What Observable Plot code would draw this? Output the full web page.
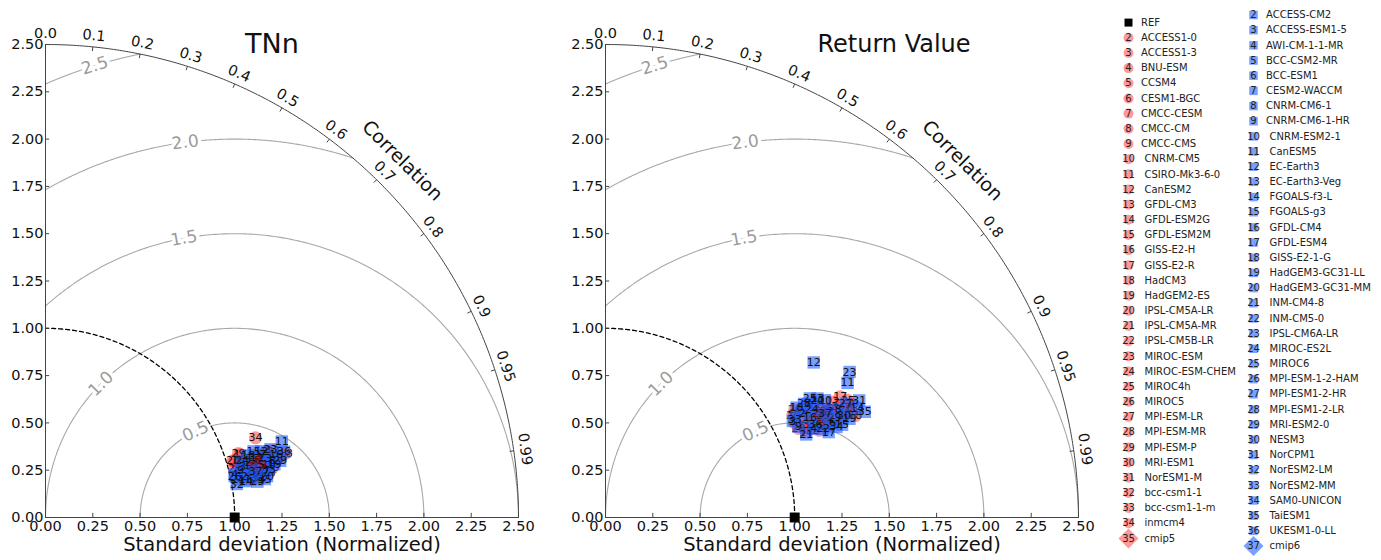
<!DOCTYPE html>
<html><head><meta charset="utf-8">
<script src="https://cdn.jsdelivr.net/npm/d3@7"></script>
<script src="https://cdn.jsdelivr.net/npm/@observablehq/plot@0.6"></script>
<style>
body{margin:0;background:#fff;font-family:"DejaVu Sans",sans-serif;}
#wrap{display:flex;width:1381px;height:560px;overflow:hidden;}
#wrap svg{display:block;flex:none;}
</style></head><body><div id="wrap"></div>
<script>
// ---------- data ----------
const cmip5Models = ["ACCESS1-0","ACCESS1-3","BNU-ESM","CCSM4","CESM1-BGC","CMCC-CESM","CMCC-CM","CMCC-CMS","CNRM-CM5","CSIRO-Mk3-6-0","CanESM2","GFDL-CM3","GFDL-ESM2G","GFDL-ESM2M","GISS-E2-H","GISS-E2-R","HadCM3","HadGEM2-ES","IPSL-CM5A-LR","IPSL-CM5A-MR","IPSL-CM5B-LR","MIROC-ESM","MIROC-ESM-CHEM","MIROC4h","MIROC5","MPI-ESM-LR","MPI-ESM-MR","MPI-ESM-P","MRI-ESM1","NorESM1-M","bcc-csm1-1","bcc-csm1-1-m","inmcm4"];
const cmip6Models = ["ACCESS-CM2","ACCESS-ESM1-5","AWI-CM-1-1-MR","BCC-CSM2-MR","BCC-ESM1","CESM2-WACCM","CNRM-CM6-1","CNRM-CM6-1-HR","CNRM-ESM2-1","CanESM5","EC-Earth3","EC-Earth3-Veg","FGOALS-f3-L","FGOALS-g3","GFDL-CM4","GFDL-ESM4","GISS-E2-1-G","HadGEM3-GC31-LL","HadGEM3-GC31-MM","INM-CM4-8","INM-CM5-0","IPSL-CM6A-LR","MIROC-ES2L","MIROC6","MPI-ESM-1-2-HAM","MPI-ESM1-2-HR","MPI-ESM1-2-LR","MRI-ESM2-0","NESM3","NorCPM1","NorESM2-LM","NorESM2-MM","SAM0-UNICON","TaiESM1","UKESM1-0-LL"];
const ensembleNames = ["cmip5","cmip6"];
const panelTitles = ["TNn","Return Value"];

// normalized standard deviation and correlation (models 2.., last value = ensemble mean)
const tnnStd5 = [1.092,1.155,1.055,1.189,1.109,1.044,1.146,1.211,1.079,1.165,1.221,1.251,1.256,1.228,1.082,1.153,1.315,1.281,1.035,1.096,1.133,1.177,1.203,1.122,1.033,1.090,1.140,1.075,1.204,1.181,1.121,1.080,1.187,1.155];
const tnnCor5 = [0.962,0.970,0.967,0.968,0.974,0.958,0.960,0.975,0.973,0.979,0.958,0.959,0.971,0.977,0.952,0.980,0.966,0.968,0.957,0.967,0.962,0.960,0.964,0.981,0.968,0.981,0.983,0.949,0.980,0.974,0.964,0.963,0.935,0.970];
const tnnStd6 = [1.073,1.133,1.026,1.160,1.098,1.196,1.237,1.060,1.213,1.312,1.193,1.201,1.077,1.154,1.264,1.160,1.120,1.242,1.191,1.039,1.116,1.243,1.082,1.136,1.024,1.177,1.128,1.276,1.094,1.149,1.026,1.206,1.155,1.177,1.308,1.136];
const tnnCor6 = [0.979,0.971,0.975,0.966,0.983,0.961,0.970,0.972,0.973,0.952,0.956,0.966,0.984,0.953,0.965,0.975,0.956,0.974,0.983,0.981,0.977,0.957,0.961,0.986,0.977,0.977,0.966,0.972,0.969,0.983,0.985,0.978,0.961,0.985,0.964,0.977];
const rvStd5 = [1.172,1.248,1.118,1.311,1.178,1.330,1.172,1.254,1.396,1.253,1.346,1.416,1.152,1.279,1.350,1.395,1.426,1.265,1.128,1.212,1.333,1.123,1.220,1.422,1.151,1.275,1.375,1.287,1.432,1.217,1.217,1.150,1.364,1.271];
const rvCor5 = [0.896,0.898,0.894,0.900,0.917,0.917,0.879,0.917,0.910,0.878,0.891,0.918,0.920,0.891,0.926,0.889,0.926,0.925,0.878,0.899,0.908,0.908,0.926,0.900,0.869,0.910,0.917,0.925,0.908,0.879,0.912,0.905,0.902,0.905];
const rvStd6 = [1.177,1.114,1.196,1.253,1.300,1.227,1.356,1.127,1.315,1.464,1.372,1.285,1.451,1.343,1.203,1.263,1.165,1.391,1.280,1.148,1.242,1.502,1.230,1.250,1.257,1.405,1.209,1.321,1.371,1.477,1.297,1.127,1.311,1.480,1.213,1.284];
const rvCor6 = [0.884,0.889,0.920,0.910,0.923,0.872,0.907,0.905,0.882,0.874,0.802,0.872,0.917,0.931,0.898,0.934,0.867,0.927,0.875,0.924,0.926,0.859,0.886,0.864,0.899,0.904,0.868,0.916,0.919,0.908,0.902,0.887,0.931,0.926,0.915,0.904];

const stdTicks = [0,0.25,0.5,0.75,1,1.25,1.5,1.75,2,2.25,2.5];
const corrTicks = [0,0.1,0.2,0.3,0.4,0.5,0.6,0.7,0.8,0.9,0.95,0.99];
const rmsLevels = [0.5,1.0,1.5,2.0,2.5];
const rmsLabelAngle = [114.5,135,100.3,97.5,107.2]; // degrees around REF where contour labels sit
const refStd = 1.0;
const stdMax = 2.5;

// ---------- helpers ----------
const C5 = "red", C6 = "#1f5fff", TXT = "#111";
const pol = (s, c) => [s * c, s * Math.sqrt(Math.max(0, 1 - c * c))];

function taylor(title, titleX, titleSize, std5, cor5, std6, cor6) {
  const pts = (std, cor, group) => std.map((s, i) => {
    const [x, y] = pol(s, cor[i]);
    return {n: i + 2, x, y, group, mean: i === std.length - 1};
  });
  const p5 = pts(std5, cor5, "cmip5"), p6 = pts(std6, cor6, "cmip6");
  const arc = (cx, r, a0, a1, key) => d3.range(0, 241).map(k => {
    const a = a0 + (a1 - a0) * k / 240;
    return {key, x: cx + r * Math.cos(a), y: r * Math.sin(a)};
  });
  const rmsLines = rmsLevels.flatMap(R => {
    const cmin = Math.min(1, (stdMax * stdMax - refStd * refStd - R * R) / (2 * R * refStd));
    const a0 = Math.acos(Math.max(-1, cmin));
    const a1 = R > refStd ? Math.acos(-refStd / R) : Math.PI;
    return arc(refStd, R, a0, a1, R);
  });
  const rmsLabels = rmsLevels.map((R, i) => {
    const a = rmsLabelAngle[i] * Math.PI / 180;
    return {x: refStd + R * Math.cos(a), y: R * Math.sin(a), rot: 90 - rmsLabelAngle[i], t: R.toFixed(1)};
  });
  const corrLab = corrTicks.map(c => {
    const [x, y] = pol(2.56, c);
    return {x, y, rot: 90 - Math.acos(c) * 180 / Math.PI, t: c === 0 ? "0.0" : String(c)};
  });
  const corrTk = corrTicks.map(c => {
    const [x1, y1] = pol(stdMax, c), [x2, y2] = pol(stdMax - 0.022, c);
    return {x1, y1, x2, y2};
  });
  const corrTitle = (() => { const a = Math.PI / 4; return [{x: 2.667 * Math.cos(a), y: 2.667 * Math.sin(a)}]; })();

  return Plot.plot({
    width: 560, height: 560,
    marginLeft: 45, marginRight: 42, marginTop: 44, marginBottom: 43,
    x: {domain: [0, stdMax]}, y: {domain: [0, stdMax]},
    style: {fontFamily: "DejaVu Sans", fontSize: "14.5px", color: TXT, background: "white", overflow: "visible"},
    marks: [
      Plot.line(rmsLines, {x: "x", y: "y", z: "key", stroke: "#a8a8a8", strokeWidth: 1.1}),
      Plot.text(rmsLabels, {x: "x", y: "y", text: "t", rotate: "rot", fill: "#9a9a9a", stroke: "white", strokeWidth: 7, fontSize: 17}),
      Plot.line(arc(0, stdMax, 0, Math.PI / 2, "outer"), {x: "x", y: "y", stroke: "#444", strokeWidth: 1}),
      Plot.line(arc(0, refStd, 0, Math.PI / 2, "ref"), {x: "x", y: "y", stroke: "#000", strokeWidth: 1.3, strokeDasharray: "4,3"}),
      Plot.ruleY([0], {x1: 0, x2: stdMax, stroke: "#444"}),
      Plot.ruleX([0], {y1: 0, y2: stdMax, stroke: "#444"}),
      Plot.ruleX(stdTicks, {y1: 0, y2: 0.022, stroke: "#444"}),
      Plot.ruleY(stdTicks, {x1: 0, x2: 0.022, stroke: "#444"}),
      Plot.link(corrTk, {x1: "x1", y1: "y1", x2: "x2", y2: "y2", stroke: "#444"}),
      Plot.text(corrLab, {x: "x", y: "y", text: "t", rotate: "rot", fontSize: 14.5, fill: TXT}),
      Plot.text(corrTitle, {x: "x", y: "y", text: () => "Correlation", rotate: 45, fontSize: 19, fill: TXT}),
      Plot.text([title], {x: titleX, y: stdMax, text: d => d, textAnchor: "start", fontSize: titleSize, fill: TXT}),
      Plot.text(["Standard deviation (Normalized)"], {frameAnchor: "bottom", text: d => d, dy: 33, fontSize: 19.5, fill: TXT}),
      Plot.dot([{x: refStd, y: 0}], {x: "x", y: "y", symbol: "square", r: 5.6, fill: "black"}),
      Plot.dot(p5.filter(d => !d.mean), {x: "x", y: "y", symbol: "circle", r: 6.5, fill: C5, fillOpacity: 0.4}),
      Plot.text(p5.filter(d => !d.mean), {x: "x", y: "y", text: "n", fontSize: 11, fill: TXT}),
      Plot.dot(p6.filter(d => !d.mean), {x: "x", y: "y", symbol: "square", r: 7, fill: C6, fillOpacity: 0.6}),
      Plot.text(p6.filter(d => !d.mean), {x: "x", y: "y", text: "n", fontSize: 11, fill: TXT}),
      Plot.dot(p5.filter(d => d.mean), {x: "x", y: "y", symbol: "diamond2", r: 9, fill: C5, fillOpacity: 0.4}),
      Plot.text(p5.filter(d => d.mean), {x: "x", y: "y", text: "n", fontSize: 11, fill: TXT}),
      Plot.dot(p6.filter(d => d.mean), {x: "x", y: "y", symbol: "diamond2", r: 9, fill: C6, fillOpacity: 0.6}),
      Plot.text(p6.filter(d => d.mean), {x: "x", y: "y", text: "n", fontSize: 11, fill: TXT}),
      Plot.axisX({ticks: stdTicks, tickFormat: d3.format(".2f"), tickSize: 0, tickPadding: 3, label: null, fontSize: 14.5}),
      Plot.axisY({ticks: stdTicks, tickFormat: d3.format(".2f"), tickSize: 0, tickPadding: 2, label: null, fontSize: 14.5})
    ]
  });
}

function legend() {
  const col0 = [{kind: "ref", num: "", label: "REF"}]
    .concat(cmip5Models.map((m, i) => ({kind: "c5", num: String(i + 2), label: m})))
    .concat([{kind: "m5", num: String(cmip5Models.length + 2), label: ensembleNames[0]}]);
  const col1 = cmip6Models.map((m, i) => ({kind: "c6", num: String(i + 2), label: m}))
    .concat([{kind: "m6", num: String(cmip6Models.length + 2), label: ensembleNames[1]}]);
  const rows = [];
  col0.forEach((d, i) => rows.push({...d, col: 0, row: i - (col0.length - 1) / 2}));
  col1.forEach((d, i) => rows.push({...d, col: 1, row: i - (col1.length - 1) / 2}));
  const of = k => rows.filter(d => d.kind === k);
  return Plot.plot({
    width: 261, height: 560, margin: 0,
    x: {domain: [0, 1], range: [8, 133], axis: null},
    y: {domain: [-17.5, 17.5], range: [14.5, 545.5], axis: null},
    style: {fontFamily: "DejaVu Sans", fontSize: "10px", color: "#222", background: "white", overflow: "visible"},
    marks: [
      Plot.dot(of("ref"), {x: "col", y: "row", symbol: "square", r: 4.5, fill: "black"}),
      Plot.dot(of("c5"), {x: "col", y: "row", symbol: "circle", r: 5, fill: C5, fillOpacity: 0.4}),
      Plot.dot(of("c6"), {x: "col", y: "row", symbol: "square", r: 4.8, fill: C6, fillOpacity: 0.6}),
      Plot.dot(of("m5"), {x: "col", y: "row", symbol: "diamond2", r: 9, fill: C5, fillOpacity: 0.4}),
      Plot.dot(of("m6"), {x: "col", y: "row", symbol: "diamond2", r: 9, fill: C6, fillOpacity: 0.6}),
      Plot.text(rows, {x: "col", y: "row", text: "num", fontSize: 10, fill: "#222"}),
      Plot.text(rows.filter(d => d.num.length < 2), {x: "col", y: "row", text: "label", textAnchor: "start", dx: 12.5, fontSize: 10, fill: "#222"}),
      Plot.text(rows.filter(d => d.num.length >= 2), {x: "col", y: "row", text: "label", textAnchor: "start", dx: 16, fontSize: 10, fill: "#222"})
    ]
  });
}

const wrap = document.getElementById("wrap");
wrap.appendChild(taylor(panelTitles[0], 1.055, 27, tnnStd5, tnnCor5, tnnStd6, tnnCor6));
wrap.appendChild(taylor(panelTitles[1], 1.12, 24, rvStd5, rvCor5, rvStd6, rvCor6));
wrap.appendChild(legend());
</script></body></html>
